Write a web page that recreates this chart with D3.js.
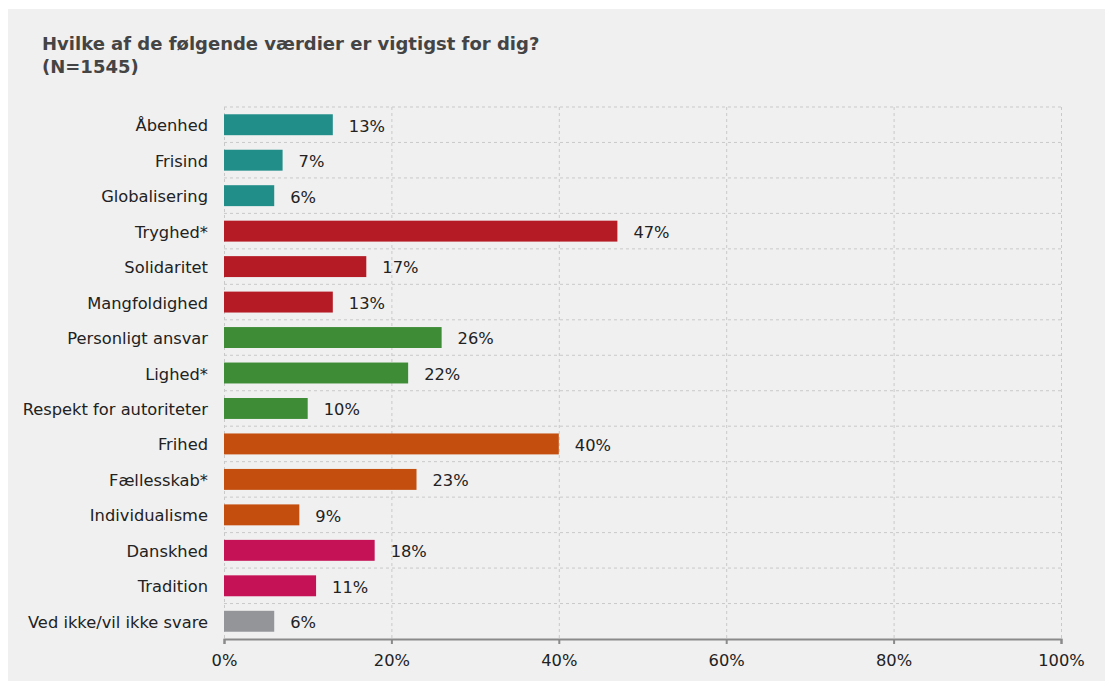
<!DOCTYPE html>
<html>
<head>
<meta charset="utf-8">
<script src="https://cdn.jsdelivr.net/npm/d3@7"></script>
<style>
  body { margin: 0; background: #fff; }
  svg { display: block; font-family: "DejaVu Sans", Verdana, sans-serif; }
  .grid line { stroke: #c9c9c9; stroke-dasharray: 3,3; }
  .grid .domain { display: none; }
</style>
</head>
<body>
<div id="chart"></div>
<script>
// chart data
const categories = ["Åbenhed", "Frisind", "Globalisering", "Tryghed*", "Solidaritet", "Mangfoldighed",
  "Personligt ansvar", "Lighed*", "Respekt for autoriteter", "Frihed", "Fællesskab*", "Individualisme",
  "Danskhed", "Tradition", "Ved ikke/vil ikke svare"];
const values = [13, 7, 6, 47, 17, 13, 26, 22, 10, 40, 23, 9, 18, 11, 6];
const groups = ["a", "a", "a", "b", "b", "b", "c", "c", "c", "d", "d", "d", "e", "e", "f"];
const groupColors = {a: "#218e8a", b: "#b51b24", c: "#3e8c36", d: "#c44e0e", e: "#c51256", f: "#949599"};
const xTicks = [0, 20, 40, 60, 80, 100];

const W = 1105, H = 681;
const margin = {top: 107, right: 44, bottom: 42, left: 224};
const width = W - margin.left - margin.right;
const height = H - margin.top - margin.bottom;
const fs = 16.3;

const svg = d3.select("#chart")
  .append("svg")
    .attr("width", W)
    .attr("height", H);

// panel background
svg.append("rect")
  .attr("x", 8).attr("y", 9)
  .attr("width", W - 8).attr("height", H - 9)
  .attr("fill", "#f0f0f0");

// title
svg.append("text")
  .attr("x", 42).attr("y", 50)
  .attr("font-size", 18).attr("font-weight", "bold").attr("fill", "#444")
  .text("Hvilke af de følgende værdier er vigtigst for dig?");
svg.append("text")
  .attr("x", 42).attr("y", 73)
  .attr("font-size", 18).attr("font-weight", "bold").attr("fill", "#444")
  .text("(N=1545)");

const g = svg.append("g")
  .attr("transform", `translate(${margin.left}, ${margin.top})`);

const xScale = d3.scaleLinear().domain([0, 100]).range([0, width]);
const yScale = d3.scaleBand().domain(categories).range([0, height]).paddingInner(0.41).paddingOuter(0.205);

// vertical grid
g.append("g")
  .attr("class", "grid")
  .call(d3.axisBottom(xScale).tickValues(xTicks).tickSize(height).tickFormat(""));

// horizontal grid at band boundaries
const step = yScale.step();
g.append("g")
  .attr("class", "grid")
  .selectAll("line")
  .data(categories)
  .join("line")
    .attr("x1", 0).attr("x2", width)
    .attr("y1", d => yScale(d) - step * yScale.paddingInner() / 2)
    .attr("y2", d => yScale(d) - step * yScale.paddingInner() / 2);

// bars
g.selectAll("rect.bar")
  .data(categories)
  .join("rect")
    .attr("class", "bar")
    .attr("x", xScale(0))
    .attr("y", d => yScale(d))
    .attr("width", (d, i) => xScale(values[i]) - xScale(0))
    .attr("height", yScale.bandwidth())
    .attr("fill", (d, i) => groupColors[groups[i]]);

// value labels
g.selectAll("text.val")
  .data(categories)
  .join("text")
    .attr("class", "val")
    .attr("x", (d, i) => xScale(values[i]) + 16)
    .attr("y", d => yScale(d) + yScale.bandwidth() / 2 + 1)
    .attr("dy", "0.36em")
    .attr("font-size", fs).attr("fill", "#222")
    .text((d, i) => values[i] + "%");

// y axis labels
const yAxis = g.append("g")
  .call(d3.axisLeft(yScale).tickSize(0).tickPadding(16));
yAxis.select(".domain").remove();
yAxis.selectAll("text")
  .attr("font-family", "DejaVu Sans, Verdana, sans-serif")
  .attr("font-size", fs).attr("fill", "#222")
  .attr("dy", "0.4em");

// x axis
const xAxis = g.append("g")
  .attr("transform", `translate(0, ${height})`)
  .call(d3.axisBottom(xScale).tickValues(xTicks).tickSize(5).tickPadding(10).tickFormat(d => d + "%"));
xAxis.select(".domain").attr("stroke", "#8a8a8a").attr("stroke-width", 2);
xAxis.selectAll(".tick line").attr("stroke", "#8a8a8a").attr("stroke-width", 2);
xAxis.selectAll("text")
  .attr("font-family", "DejaVu Sans, Verdana, sans-serif")
  .attr("font-size", fs).attr("fill", "#222");
</script>
</body>
</html>
